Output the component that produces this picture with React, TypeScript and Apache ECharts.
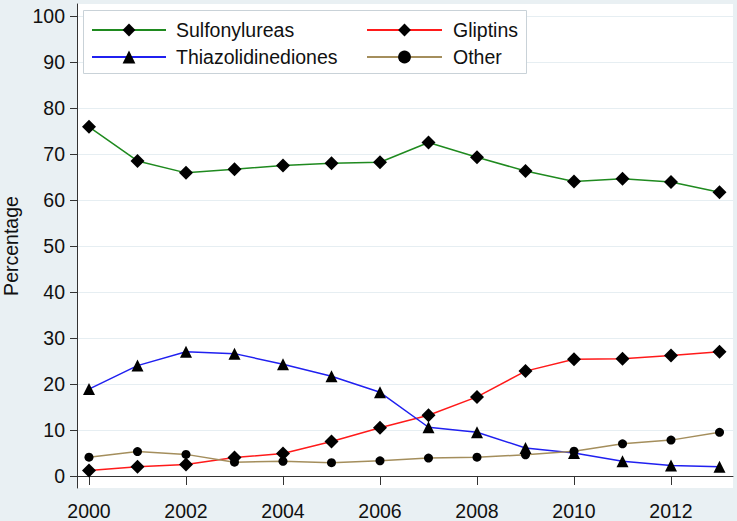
import React, { useEffect, useRef } from "react";
import * as echarts from "echarts";

const years = [2000, 2001, 2002, 2003, 2004, 2005, 2006, 2007, 2008, 2009, 2010, 2011, 2012, 2013];
const sulfonylureas = [75.9, 68.5, 65.9, 66.7, 67.5, 68.0, 68.2, 72.5, 69.3, 66.3, 64.0, 64.6, 63.9, 61.7];
const gliptins = [1.2, 2.0, 2.5, 4.0, 4.9, 7.5, 10.5, 13.2, 17.2, 22.8, 25.4, 25.5, 26.2, 27.0];
const thiazolidinediones = [18.9, 24.0, 27.0, 26.6, 24.3, 21.7, 18.2, 10.6, 9.5, 6.1, 5.0, 3.2, 2.3, 2.0];
const other = [4.1, 5.3, 4.7, 3.0, 3.2, 2.9, 3.3, 3.9, 4.1, 4.6, 5.4, 7.0, 7.8, 9.5];
const xTicks = [2000, 2002, 2004, 2006, 2008, 2010, 2012];
const yTicks = [0, 10, 20, 30, 40, 50, 60, 70, 80, 90, 100];

const FONT = '"Liberation Sans", Arial, sans-serif';
const FS = 19.5;

function pairs(vals: number[]) {
  return years.map((y, i) => [y, vals[i]]);
}

export default function App() {
  const ref = useRef<HTMLDivElement>(null);
  useEffect(() => {
    if (!ref.current) return;
    const chart = echarts.init(ref.current, undefined, { renderer: "svg" });
    const mk = (name: string, data: number[], color: string, symbol: string, size: number) => ({
      name,
      type: "line",
      data: pairs(data),
      symbol,
      symbolSize: size,
      showSymbol: true,
      lineStyle: { color, width: 1.5 },
      itemStyle: { color: "#000" },
      emphasis: { disabled: true },
    });
    chart.setOption({
      animation: false,
      backgroundColor: "#e9f0f3",
      textStyle: { fontFamily: FONT },
      grid: {
        left: 77,
        top: 4,
        width: 656,
        height: 484,
        containLabel: false,
        outerBoundsMode: "none",
        show: true,
        backgroundColor: "#ffffff",
        borderWidth: 0,
      },
      xAxis: {
        type: "value",
        min: 1999.753,
        max: 2013.278,
        axisLine: { show: true, lineStyle: { color: "#333", width: 1 } },
        axisTick: { show: true, length: 9, customValues: xTicks, lineStyle: { color: "#333" } },
        axisLabel: {
          customValues: xTicks,
          margin: 13,
          fontSize: FS,
          color: "#111",
          fontFamily: FONT,
          formatter: (v: number) => String(v),
        },
        splitLine: { show: false },
      },
      yAxis: {
        type: "value",
        min: -2.609,
        max: 102.609,
        name: "Percentage",
        nameLocation: "middle",
        nameGap: 56,
        nameTextStyle: { fontSize: FS, lineHeight: 20, color: "#111", fontFamily: FONT },
        axisLine: { show: true, lineStyle: { color: "#333", width: 1 } },
        axisTick: { show: true, length: 7, customValues: yTicks, lineStyle: { color: "#333" } },
        axisLabel: {
          customValues: yTicks,
          margin: 12,
          fontSize: FS,
          color: "#111",
          fontFamily: FONT,
          formatter: (v: number) => String(v),
        },
        splitLine: { show: true, lineStyle: { color: "#e6eef2", width: 1 } },
      },
      graphic: [
        {
          type: "rect",
          z: 5,
          shape: { x: 83.5, y: 10.5, width: 443, height: 63 },
          style: { fill: "#ffffff", stroke: "#c9d2d8", lineWidth: 1 },
        },
      ],
      legend: [
        {
          data: ["Sulfonylureas", "Thiazolidinediones"],
          orient: "vertical",
          left: 91,
          top: 20,
          padding: 0,
          itemWidth: 74,
          itemHeight: 16,
          itemGap: 7,
          z: 6,
          textStyle: { fontSize: FS, color: "#111", fontFamily: FONT, padding: [0, 0, 0, 5] },
        },
        {
          data: ["Gliptins", "Other"],
          orient: "vertical",
          left: 366,
          top: 20,
          padding: 0,
          itemWidth: 75,
          itemHeight: 16,
          itemGap: 7,
          z: 6,
          textStyle: { fontSize: FS, color: "#111", fontFamily: FONT, padding: [0, 0, 0, 6] },
        },
      ],
      series: [
        mk("Sulfonylureas", sulfonylureas, "#1f8a1f", "diamond", 14),
        mk("Gliptins", gliptins, "#ff1a1a", "diamond", 14),
        mk("Thiazolidinediones", thiazolidinediones, "#2020f0", "triangle", 12),
        mk("Other", other, "#a48e5c", "circle", 9),
      ],
    });
    return () => chart.dispose();
  }, []);
  return <div ref={ref} style={{ width: 737, height: 521, position: "absolute", left: 0, top: 0 }} />;
}
